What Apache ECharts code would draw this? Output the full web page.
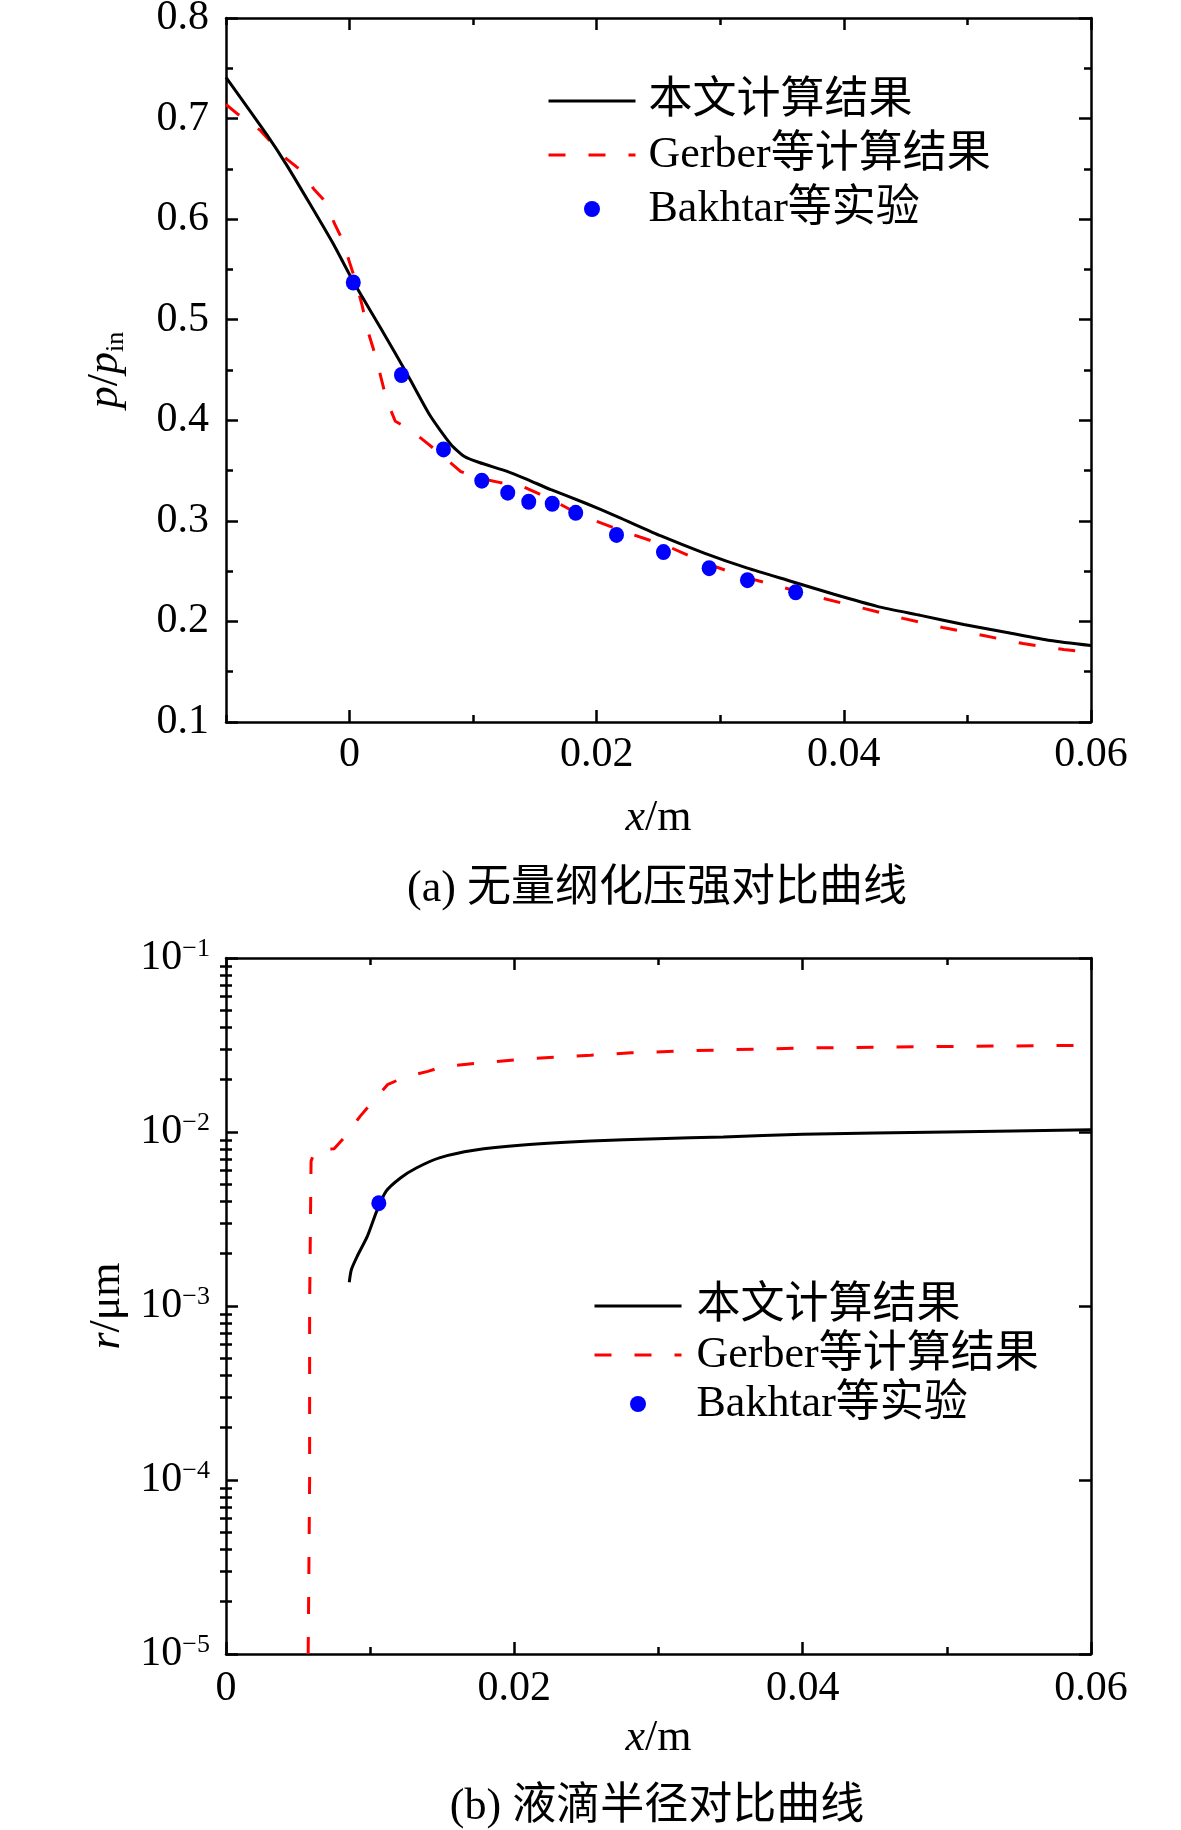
<!DOCTYPE html>
<html>
<head>
<meta charset="utf-8">
<script src="https://cdn.jsdelivr.net/npm/echarts@6/dist/echarts.min.js"></script>
<style>
html,body{margin:0;padding:0;background:#fff}
#main{width:1181px;height:1830px}
</style>
</head>
<body>
<div id="main"></div>
<script>
// (a) 无量纲化压强 p/p_in 对 x/m
const presentA = [
  [-0.01, 0.741], [-0.0067, 0.684], [-0.0051, 0.654], [-0.0032, 0.615], [-0.0013, 0.575],
  [0.0003, 0.538], [0.0025, 0.492], [0.0047, 0.445], [0.0065, 0.405], [0.0082, 0.376],
  [0.0093, 0.364], [0.0105, 0.358], [0.0128, 0.349], [0.0144, 0.341], [0.0163, 0.331],
  [0.0190, 0.318], [0.0217, 0.304], [0.0252, 0.285], [0.0287, 0.268], [0.0322, 0.253],
  [0.0357, 0.240], [0.0392, 0.227], [0.0427, 0.215], [0.0462, 0.206], [0.0497, 0.197],
  [0.0532, 0.189], [0.0567, 0.181], [0.06, 0.176]
];
const gerberA = [
  [-0.01, 0.714], [-0.009, 0.704], [-0.0072, 0.688], [-0.0052, 0.661], [-0.004, 0.649],
  [-0.0029, 0.630], [-0.002, 0.618], [-0.0012, 0.595], [-0.0006, 0.580], [0.0000, 0.557],
  [0.0005, 0.538], [0.0010, 0.515], [0.0015, 0.488], [0.0021, 0.464], [0.0030, 0.420],
  [0.0037, 0.399], [0.0049, 0.391], [0.0063, 0.377], [0.0071, 0.369], [0.0090, 0.349],
  [0.0103, 0.343], [0.0122, 0.338], [0.0135, 0.337], [0.0153, 0.327], [0.0162, 0.322],
  [0.0188, 0.305], [0.0225, 0.288], [0.0257, 0.275], [0.0288, 0.258], [0.0320, 0.244],
  [0.0350, 0.234], [0.0383, 0.223], [0.0416, 0.213], [0.0448, 0.203], [0.0480, 0.194],
  [0.0513, 0.186], [0.0545, 0.178], [0.0578, 0.172], [0.06, 0.169]
];
const bakhtarA = [
  [0.0003, 0.537], [0.0042, 0.445], [0.0076, 0.371], [0.0107, 0.340], [0.0128, 0.328],
  [0.0145, 0.319], [0.0164, 0.317], [0.0183, 0.308], [0.0216, 0.286], [0.0254, 0.269],
  [0.0291, 0.253], [0.0322, 0.241], [0.0361, 0.229]
];

// (b) 液滴半径 r/μm 对 x/m
const presentB = [
  [0.00855, 1.37e-3], [0.0087, 1.62e-3], [0.0091, 1.93e-3], [0.0098, 2.51e-3], [0.01045, 3.5e-3],
  [0.0111, 4.56e-3], [0.0121, 5.44e-3], [0.0132, 6.21e-3], [0.0148, 7.1e-3], [0.0172, 7.85e-3],
  [0.0206, 8.41e-3], [0.0253, 8.87e-3], [0.0299, 9.16e-3], [0.0345, 9.36e-3], [0.04, 9.7e-3],
  [0.05, 1.0e-2], [0.06, 1.03e-2]
];
const gerberB = [
  [0.0057, 1e-5], [0.0058, 1e-4], [0.0058, 1e-3], [0.0059, 6.8e-3], [0.0062, 7.9e-3],
  [0.0075, 8.0e-3], [0.0084, 9.7e-3], [0.0093, 1.23e-2], [0.0101, 1.47e-2], [0.0112, 1.87e-2],
  [0.0124, 2.07e-2], [0.0140, 2.23e-2], [0.0151, 2.38e-2], [0.0180, 2.51e-2], [0.0208, 2.63e-2],
  [0.0253, 2.76e-2], [0.0281, 2.85e-2], [0.0322, 2.93e-2], [0.04, 3.04e-2], [0.05, 3.1e-2],
  [0.06, 3.15e-2]
];
const bakhtarB = [[0.0106, 3.9e-3]];

// 刻度
const xMajorA = [0, 0.02, 0.04, 0.06];
const xMinorA = [-0.01, 0.01, 0.03, 0.05];
const decadesB = [1e-5, 1e-4, 1e-3, 1e-2, 1e-1];
const minorB = [];
decadesB.slice(0, -1).forEach(d => { for (let k = 2; k <= 9; k++) minorB.push(k * d); });

const names = ['本文计算结果', 'Gerber等计算结果', 'Bakhtar等实验'];
const serif = '"Liberation Serif", "Noto Sans CJK SC", serif';
const black = '#000';
const red = '#ff0000';
const blue = '#0000ff';
const solidStyle = { color: black, width: 3 };
const dashStyle = { color: red, width: 3, type: [17, 23] };
const axisLineStyle = { color: black, width: 2.5 };
const tickStyle = { color: black, width: 2.5 };
const labelStyle = { color: black, fontSize: 42, fontFamily: serif };
const nameRich = {
  it: { fontStyle: 'italic', fontSize: 44, fontFamily: '"Liberation Serif"', color: black, lineHeight: 48, verticalAlign: 'middle' },
  n: { fontSize: 44, fontFamily: '"Liberation Serif"', color: black, lineHeight: 48, verticalAlign: 'middle' },
  sub: { fontSize: 26, fontFamily: '"Liberation Serif"', color: black, lineHeight: 26, verticalAlign: 'bottom' }
};

function xAx(grid, pos, min, max, opts) {
  return Object.assign({
    type: 'value', gridIndex: grid, position: pos, min: min, max: max,
    axisLine: { show: true, onZero: false, lineStyle: axisLineStyle },
    axisTick: { show: true, inside: true, length: 12, lineStyle: tickStyle },
    axisLabel: { show: false },
    splitLine: { show: false }
  }, opts);
}

function legendItems() {
  return [
    { name: names[0], itemStyle: { opacity: 0 }, lineStyle: solidStyle },
    { name: names[1], itemStyle: { opacity: 0 }, lineStyle: dashStyle },
    { name: names[2], itemStyle: { color: blue, opacity: 1 } }
  ];
}

const fmtX = v => (v === 0 ? '0' : v.toFixed(2));
const fmtPow = v => '{b|10}{s|−' + Math.round(-Math.log10(v)) + '}';

const chart = echarts.init(document.getElementById('main'));
chart.setOption({
  backgroundColor: '#fff',
  animation: false,
  grid: [
    { left: 226, top: 18, width: 865, height: 704, outerBoundsMode: 'none' },
    { left: 226, top: 958, width: 865, height: 696, outerBoundsMode: 'none' }
  ],
  xAxis: [
    xAx(0, 'bottom', -0.01, 0.06, {
      interval: 0.01,
      axisTick: { show: true, inside: true, length: 12, lineStyle: tickStyle, customValues: xMajorA },
      axisLabel: Object.assign({ show: true, margin: 12, customValues: xMajorA, formatter: fmtX }, labelStyle),
      name: '{it|x}{n|/m}', nameLocation: 'middle', nameGap: 72,
      nameTextStyle: { rich: nameRich }
    }),
    xAx(0, 'bottom', -0.01, 0.06, {
      interval: 0.01, axisLine: { show: false },
      axisTick: { show: true, inside: true, length: 7, lineStyle: tickStyle, customValues: xMinorA }
    }),
    xAx(0, 'top', -0.01, 0.06, {
      interval: 0.01,
      axisTick: { show: true, inside: true, length: 12, lineStyle: tickStyle, customValues: xMajorA }
    }),
    xAx(0, 'top', -0.01, 0.06, {
      interval: 0.01, axisLine: { show: false },
      axisTick: { show: true, inside: true, length: 7, lineStyle: tickStyle, customValues: xMinorA }
    }),
    xAx(1, 'bottom', 0, 0.06, {
      interval: 0.02,
      minorTick: { show: true, splitNumber: 2, length: 7, lineStyle: tickStyle },
      axisLabel: Object.assign({ show: true, margin: 14, formatter: fmtX }, labelStyle),
      name: '{it|x}{n|/m}', nameLocation: 'middle', nameGap: 60,
      nameTextStyle: { rich: nameRich }
    }),
    xAx(1, 'top', 0, 0.06, {
      interval: 0.02,
      minorTick: { show: true, splitNumber: 2, length: 7, lineStyle: tickStyle }
    })
  ],
  yAxis: [
    {
      type: 'value', gridIndex: 0, position: 'left', min: 0.1, max: 0.8, interval: 0.1,
      axisLine: { show: true, onZero: false, lineStyle: axisLineStyle },
      axisTick: { show: true, inside: true, length: 12, lineStyle: tickStyle },
      minorTick: { show: true, splitNumber: 2, length: 7, lineStyle: tickStyle },
      axisLabel: Object.assign({ margin: 17, formatter: v => v.toFixed(1) }, labelStyle),
      splitLine: { show: false },
      name: '{it|p}{n|/}{it|p}{sub|in}', nameLocation: 'middle', nameRotate: 90, nameGap: 97,
      nameTextStyle: { rich: nameRich }
    },
    {
      type: 'value', gridIndex: 0, position: 'right', min: 0.1, max: 0.8, interval: 0.1,
      axisLine: { show: true, onZero: false, lineStyle: axisLineStyle },
      axisTick: { show: true, inside: true, length: 12, lineStyle: tickStyle },
      minorTick: { show: true, splitNumber: 2, length: 7, lineStyle: tickStyle },
      axisLabel: { show: false }, splitLine: { show: false }
    },
    {
      type: 'log', logBase: 10, gridIndex: 1, position: 'left', min: 1e-5, max: 1e-1,
      axisLine: { show: true, onZero: false, lineStyle: axisLineStyle },
      axisTick: { show: true, inside: true, length: 12, lineStyle: tickStyle },
      axisLabel: {
        margin: 16, formatter: fmtPow,
        rich: {
          b: { fontSize: 42, fontFamily: '"Liberation Serif"', color: black, lineHeight: 44, verticalAlign: 'middle' },
          s: { fontSize: 26, fontFamily: '"Liberation Serif"', color: black, lineHeight: 26, verticalAlign: 'top' }
        }
      },
      splitLine: { show: false },
      name: '{it|r}{n|/μm}', nameLocation: 'middle', nameRotate: 90, nameGap: 86,
      nameTextStyle: { rich: nameRich }
    },
    {
      type: 'log', logBase: 10, gridIndex: 1, position: 'left', min: 1e-5, max: 1e-1,
      axisLine: { show: false },
      axisTick: { show: true, inside: true, length: 6, lineStyle: tickStyle, customValues: minorB },
      axisLabel: { show: false }, splitLine: { show: false }
    },
    {
      type: 'log', logBase: 10, gridIndex: 1, position: 'right', min: 1e-5, max: 1e-1,
      axisLine: { show: true, onZero: false, lineStyle: axisLineStyle },
      axisTick: { show: true, inside: true, length: 12, lineStyle: tickStyle },
      axisLabel: { show: false }, splitLine: { show: false }
    },
    {
      type: 'log', logBase: 10, gridIndex: 1, position: 'right', min: 1e-5, max: 1e-1,
      axisLine: { show: false },
      axisTick: { show: true, inside: true, length: 6, lineStyle: tickStyle, customValues: minorB },
      axisLabel: { show: false }, splitLine: { show: false }
    }
  ],
  legend: [
    {
      data: legendItems(), orient: 'vertical', left: 547, top: 79, padding: 0,
      itemWidth: 87, itemHeight: 16, itemGap: 10,
      textStyle: { color: black, fontSize: 44, fontFamily: serif, lineHeight: 44, padding: [0, 0, 0, 8] },
      selectedMode: false
    },
    {
      data: legendItems(), orient: 'vertical', left: 593, top: 1284, padding: 0,
      itemWidth: 87, itemHeight: 16, itemGap: 5,
      textStyle: { color: black, fontSize: 44, fontFamily: serif, lineHeight: 44, padding: [0, 0, 0, 10] },
      selectedMode: false
    }
  ],
  series: [
    {
      name: names[0], type: 'line', xAxisIndex: 0, yAxisIndex: 0, data: presentA,
      symbol: 'none', smooth: 0.2,
      lineStyle: solidStyle, itemStyle: { color: black }, z: 3
    },
    {
      name: names[1], type: 'line', xAxisIndex: 0, yAxisIndex: 0, data: gerberA,
      symbol: 'none', smooth: false,
      lineStyle: dashStyle, itemStyle: { color: red }, z: 2
    },
    {
      name: names[2], type: 'scatter', xAxisIndex: 0, yAxisIndex: 0, data: bakhtarA,
      symbol: 'circle', symbolSize: [15, 16], itemStyle: { color: blue, opacity: 1 }, z: 4
    },
    {
      name: names[0], type: 'line', xAxisIndex: 4, yAxisIndex: 2, data: presentB,
      symbol: 'none', smooth: 0.25,
      lineStyle: solidStyle, itemStyle: { color: black }, z: 3
    },
    {
      name: names[1], type: 'line', xAxisIndex: 4, yAxisIndex: 2, data: gerberB,
      symbol: 'none', smooth: false,
      lineStyle: dashStyle, itemStyle: { color: red }, z: 2
    },
    {
      name: names[2], type: 'scatter', xAxisIndex: 4, yAxisIndex: 2, data: bakhtarB,
      symbol: 'circle', symbolSize: [15, 16], itemStyle: { color: blue, opacity: 1 }, z: 4
    }
  ],
  graphic: [
    {
      type: 'text', x: 657, y: 889,
      style: { text: '(a) 无量纲化压强对比曲线', font: '44px ' + serif, fill: black,
        textAlign: 'center', textVerticalAlign: 'middle', align: 'center', verticalAlign: 'middle' }
    },
    {
      type: 'text', x: 657, y: 1807,
      style: { text: '(b) 液滴半径对比曲线', font: '44px ' + serif, fill: black,
        textAlign: 'center', textVerticalAlign: 'middle', align: 'center', verticalAlign: 'middle' }
    }
  ]
});
</script>
</body>
</html>
